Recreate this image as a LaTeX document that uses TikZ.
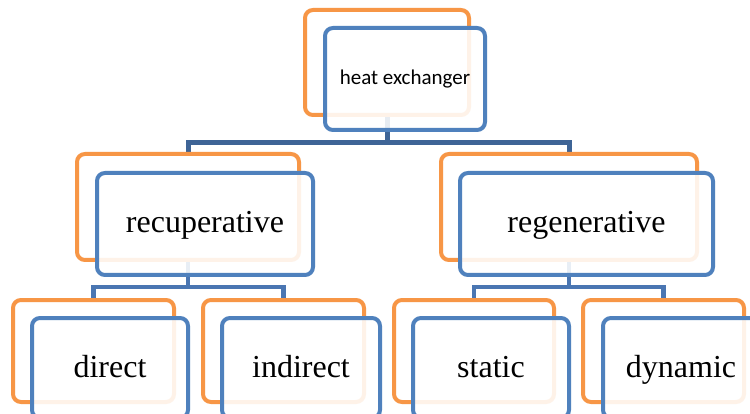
\documentclass[tikz,border=0pt]{standalone}
\usepackage{fontspec}
\setmainfont{Liberation Serif}
\newfontfamily\calfont{Carlito}
\definecolor{obox}{RGB}{247,150,70}
\definecolor{bbox}{RGB}{79,129,189}
\definecolor{connA}{RGB}{62,100,150}
\definecolor{connB}{RGB}{74,118,178}
\tikzset{
  back/.style={draw=obox, line width=4pt, rounded corners=8pt, fill=white, inner sep=0pt},
  front/.style={draw=bbox, line width=4pt, rounded corners=8pt, fill=white, fill opacity=0.88, text opacity=1, inner sep=0pt, font=\fontsize{32}{36}\selectfont, text height=25pt, text depth=7pt},
  conn/.style={line width=5pt, draw=connA},
  connb/.style={line width=4.5pt, draw=connB},
}
\begin{document}
\begin{tikzpicture}[x=1pt,y=-1pt]
\useasboundingbox (0,0) rectangle (750,414);
\clip (0,0) rectangle (750,414);
\fill[white] (0,0) rectangle (750,414);
% coordinates for buses
\coordinate (bus1) at (0,143);
\coordinate (bus2) at (0,287);
% orange (back) boxes
\path
  (387,62.5) node[back, minimum width=160pt, minimum height=101pt] (he-o) {}
  (188,207) node[back, minimum width=218pt, minimum height=102pt] (rec-o) {}
  (569,207) node[back, minimum width=252pt, minimum height=102pt] (reg-o) {}
  (93.5,351) node[back, minimum width=157pt, minimum height=98pt] (dir-o) {}
  (283.5,351) node[back, minimum width=157pt, minimum height=98pt] (ind-o) {}
  (474,351) node[back, minimum width=156pt, minimum height=98pt] (sta-o) {}
  (663.5,351) node[back, minimum width=157pt, minimum height=98pt] (dyn-o) {};
% connectors
\draw[conn, line join=miter] (he-o.center) -- (he-o.center |- bus1);
\draw[conn, line join=miter] (rec-o.north) -- (rec-o.north |- bus1) -- (reg-o.north |- bus1) -- (reg-o.north);
\draw[connb, line join=miter] (rec-o.center) -- (rec-o.center |- bus2);
\draw[connb, line join=miter] (dir-o.north) -- (dir-o.north |- bus2) -- (ind-o.north |- bus2) -- (ind-o.north);
\draw[connb, line join=miter] (reg-o.center) -- (reg-o.center |- bus2);
\draw[connb, line join=miter] (sta-o.north) -- (sta-o.north |- bus2) -- (dyn-o.north |- bus2) -- (dyn-o.north);
% redraw orange boxes over connectors
\foreach \n in {he-o,rec-o,reg-o,dir-o,ind-o,sta-o,dyn-o}{
  \draw[obox, line width=4pt, rounded corners=8pt, fill=white] (\n.north west) rectangle (\n.south east);
}
% blue (front) boxes with text
\node[front, minimum width=160pt, minimum height=102pt, text height=18pt, text depth=6pt] (he-b) at (405,79) {\calfont\fontsize{21}{24}\selectfont heat exchanger};
\node[front, minimum width=216pt, minimum height=102pt] (rec-b) at (205,224) {recuperative};
\node[front, minimum width=253pt, minimum height=102pt] (reg-b) at (586.5,224) {regenerative};
\node[front, minimum width=156pt, minimum height=100pt] (dir-b) at (110,368) {direct};
\node[front, minimum width=158pt, minimum height=100pt] (ind-b) at (301,368) {indirect};
\node[front, minimum width=156pt, minimum height=100pt] (sta-b) at (491,368) {static};
\node[front, minimum width=156pt, minimum height=100pt] (dyn-b) at (681,368) {dynamic};
\end{tikzpicture}
\end{document}
